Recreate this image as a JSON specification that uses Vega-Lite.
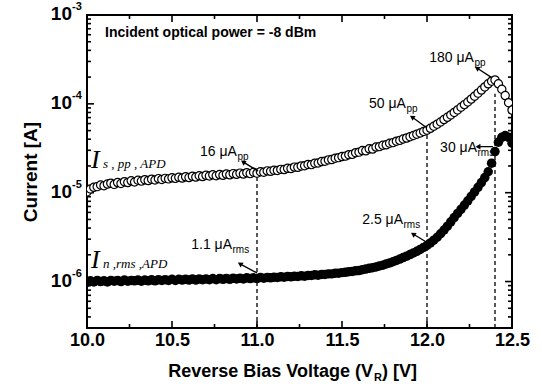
{
  "$schema": "https://vega.github.io/schema/vega-lite/v6.json",
  "width": 425,
  "height": 313,
  "autosize": {"type": "none"},
  "padding": {"left": 87, "top": 15, "right": 30, "bottom": 60},
  "background": "white",
  "config": {"view": {"stroke": "black", "strokeWidth": 2}, "font": "Liberation Sans"},
  "datasets": {
    "open": [
      {"V": 10.00, "I": 1.02e-5}, {"V": 10.02, "I": 1.10e-5}, {"V": 10.04, "I": 1.15e-5}, {"V": 10.06, "I": 1.17e-5}, {"V": 10.08, "I": 1.22e-5},
      {"V": 10.10, "I": 1.20e-5}, {"V": 10.12, "I": 1.25e-5}, {"V": 10.14, "I": 1.28e-5}, {"V": 10.16, "I": 1.24e-5}, {"V": 10.18, "I": 1.30e-5},
      {"V": 10.20, "I": 1.27e-5}, {"V": 10.22, "I": 1.33e-5}, {"V": 10.24, "I": 1.30e-5}, {"V": 10.26, "I": 1.36e-5}, {"V": 10.28, "I": 1.32e-5},
      {"V": 10.30, "I": 1.38e-5}, {"V": 10.32, "I": 1.35e-5}, {"V": 10.34, "I": 1.40e-5}, {"V": 10.36, "I": 1.37e-5}, {"V": 10.38, "I": 1.42e-5},
      {"V": 10.40, "I": 1.39e-5}, {"V": 10.42, "I": 1.44e-5}, {"V": 10.44, "I": 1.41e-5}, {"V": 10.46, "I": 1.45e-5}, {"V": 10.48, "I": 1.43e-5},
      {"V": 10.50, "I": 1.47e-5}, {"V": 10.52, "I": 1.45e-5}, {"V": 10.54, "I": 1.49e-5}, {"V": 10.56, "I": 1.46e-5}, {"V": 10.58, "I": 1.51e-5},
      {"V": 10.60, "I": 1.48e-5}, {"V": 10.62, "I": 1.53e-5}, {"V": 10.64, "I": 1.50e-5}, {"V": 10.66, "I": 1.55e-5}, {"V": 10.68, "I": 1.52e-5},
      {"V": 10.70, "I": 1.57e-5}, {"V": 10.72, "I": 1.54e-5}, {"V": 10.74, "I": 1.59e-5}, {"V": 10.76, "I": 1.55e-5}, {"V": 10.78, "I": 1.60e-5},
      {"V": 10.80, "I": 1.57e-5}, {"V": 10.82, "I": 1.62e-5}, {"V": 10.84, "I": 1.59e-5}, {"V": 10.86, "I": 1.64e-5}, {"V": 10.88, "I": 1.61e-5},
      {"V": 10.90, "I": 1.66e-5}, {"V": 10.92, "I": 1.62e-5}, {"V": 10.94, "I": 1.68e-5}, {"V": 10.96, "I": 1.64e-5}, {"V": 10.98, "I": 1.70e-5},
      {"V": 11.00, "I": 1.66e-5}, {"V": 11.02, "I": 1.72e-5}, {"V": 11.04, "I": 1.70e-5}, {"V": 11.06, "I": 1.76e-5}, {"V": 11.08, "I": 1.74e-5},
      {"V": 11.10, "I": 1.79e-5}, {"V": 11.12, "I": 1.78e-5}, {"V": 11.14, "I": 1.83e-5}, {"V": 11.16, "I": 1.82e-5}, {"V": 11.18, "I": 1.88e-5},
      {"V": 11.20, "I": 1.87e-5}, {"V": 11.22, "I": 1.94e-5}, {"V": 11.24, "I": 1.93e-5}, {"V": 11.26, "I": 2.00e-5}, {"V": 11.28, "I": 2.01e-5},
      {"V": 11.30, "I": 2.08e-5}, {"V": 11.32, "I": 2.07e-5}, {"V": 11.34, "I": 2.15e-5}, {"V": 11.36, "I": 2.16e-5}, {"V": 11.38, "I": 2.24e-5},
      {"V": 11.40, "I": 2.26e-5}, {"V": 11.42, "I": 2.34e-5}, {"V": 11.44, "I": 2.36e-5}, {"V": 11.46, "I": 2.44e-5}, {"V": 11.48, "I": 2.48e-5},
      {"V": 11.50, "I": 2.55e-5}, {"V": 11.52, "I": 2.58e-5}, {"V": 11.54, "I": 2.68e-5}, {"V": 11.56, "I": 2.70e-5}, {"V": 11.58, "I": 2.82e-5},
      {"V": 11.60, "I": 2.86e-5}, {"V": 11.62, "I": 2.98e-5}, {"V": 11.64, "I": 2.96e-5}, {"V": 11.66, "I": 3.12e-5}, {"V": 11.68, "I": 3.10e-5},
      {"V": 11.70, "I": 3.26e-5}, {"V": 11.72, "I": 3.30e-5}, {"V": 11.74, "I": 3.42e-5}, {"V": 11.76, "I": 3.46e-5}, {"V": 11.78, "I": 3.60e-5},
      {"V": 11.80, "I": 3.66e-5}, {"V": 11.82, "I": 3.80e-5}, {"V": 11.84, "I": 3.88e-5}, {"V": 11.86, "I": 4.02e-5}, {"V": 11.88, "I": 4.12e-5},
      {"V": 11.90, "I": 4.26e-5}, {"V": 11.92, "I": 4.40e-5}, {"V": 11.94, "I": 4.55e-5}, {"V": 11.96, "I": 4.70e-5}, {"V": 11.98, "I": 4.88e-5},
      {"V": 12.00, "I": 5.05e-5}, {"V": 12.02, "I": 5.30e-5}, {"V": 12.04, "I": 5.60e-5}, {"V": 12.06, "I": 5.90e-5}, {"V": 12.08, "I": 6.25e-5},
      {"V": 12.10, "I": 6.65e-5}, {"V": 12.12, "I": 7.05e-5}, {"V": 12.14, "I": 7.50e-5}, {"V": 12.16, "I": 8.00e-5}, {"V": 12.18, "I": 8.55e-5},
      {"V": 12.20, "I": 9.15e-5}, {"V": 12.22, "I": 9.80e-5}, {"V": 12.24, "I": 1.05e-4}, {"V": 12.26, "I": 1.13e-4}, {"V": 12.28, "I": 1.22e-4},
      {"V": 12.30, "I": 1.32e-4}, {"V": 12.32, "I": 1.43e-4}, {"V": 12.34, "I": 1.55e-4}, {"V": 12.36, "I": 1.68e-4}, {"V": 12.38, "I": 1.80e-4},
      {"V": 12.40, "I": 1.86e-4}, {"V": 12.42, "I": 1.68e-4}, {"V": 12.44, "I": 1.46e-4}, {"V": 12.46, "I": 1.24e-4}, {"V": 12.48, "I": 1.03e-4},
      {"V": 12.50, "I": 8.5e-5}
    ],
    "filled": [
      {"V": 10.00, "I": 0.98e-6}, {"V": 10.02, "I": 1.02e-6}, {"V": 10.04, "I": 0.99e-6}, {"V": 10.06, "I": 1.03e-6}, {"V": 10.08, "I": 1.00e-6},
      {"V": 10.10, "I": 1.02e-6}, {"V": 10.12, "I": 0.99e-6}, {"V": 10.14, "I": 1.03e-6}, {"V": 10.16, "I": 1.01e-6}, {"V": 10.18, "I": 1.03e-6},
      {"V": 10.20, "I": 1.00e-6}, {"V": 10.22, "I": 1.04e-6}, {"V": 10.24, "I": 1.01e-6}, {"V": 10.26, "I": 1.03e-6}, {"V": 10.28, "I": 1.02e-6},
      {"V": 10.30, "I": 1.04e-6}, {"V": 10.32, "I": 1.01e-6}, {"V": 10.34, "I": 1.04e-6}, {"V": 10.36, "I": 1.02e-6}, {"V": 10.38, "I": 1.05e-6},
      {"V": 10.40, "I": 1.02e-6}, {"V": 10.42, "I": 1.05e-6}, {"V": 10.44, "I": 1.03e-6}, {"V": 10.46, "I": 1.05e-6}, {"V": 10.48, "I": 1.03e-6},
      {"V": 10.50, "I": 1.06e-6}, {"V": 10.52, "I": 1.03e-6}, {"V": 10.54, "I": 1.06e-6}, {"V": 10.56, "I": 1.04e-6}, {"V": 10.58, "I": 1.06e-6},
      {"V": 10.60, "I": 1.04e-6}, {"V": 10.62, "I": 1.07e-6}, {"V": 10.64, "I": 1.04e-6}, {"V": 10.66, "I": 1.07e-6}, {"V": 10.68, "I": 1.05e-6},
      {"V": 10.70, "I": 1.07e-6}, {"V": 10.72, "I": 1.05e-6}, {"V": 10.74, "I": 1.08e-6}, {"V": 10.76, "I": 1.05e-6}, {"V": 10.78, "I": 1.08e-6},
      {"V": 10.80, "I": 1.06e-6}, {"V": 10.82, "I": 1.08e-6}, {"V": 10.84, "I": 1.06e-6}, {"V": 10.86, "I": 1.09e-6}, {"V": 10.88, "I": 1.07e-6},
      {"V": 10.90, "I": 1.09e-6}, {"V": 10.92, "I": 1.07e-6}, {"V": 10.94, "I": 1.10e-6}, {"V": 10.96, "I": 1.08e-6}, {"V": 10.98, "I": 1.10e-6},
      {"V": 11.00, "I": 1.08e-6}, {"V": 11.02, "I": 1.11e-6}, {"V": 11.04, "I": 1.09e-6}, {"V": 11.06, "I": 1.11e-6}, {"V": 11.08, "I": 1.10e-6},
      {"V": 11.10, "I": 1.12e-6}, {"V": 11.12, "I": 1.11e-6}, {"V": 11.14, "I": 1.13e-6}, {"V": 11.16, "I": 1.12e-6}, {"V": 11.18, "I": 1.14e-6},
      {"V": 11.20, "I": 1.13e-6}, {"V": 11.22, "I": 1.15e-6}, {"V": 11.24, "I": 1.14e-6}, {"V": 11.26, "I": 1.16e-6}, {"V": 11.28, "I": 1.15e-6},
      {"V": 11.30, "I": 1.17e-6}, {"V": 11.32, "I": 1.17e-6}, {"V": 11.34, "I": 1.19e-6}, {"V": 11.36, "I": 1.18e-6}, {"V": 11.38, "I": 1.20e-6},
      {"V": 11.40, "I": 1.20e-6}, {"V": 11.42, "I": 1.22e-6}, {"V": 11.44, "I": 1.22e-6}, {"V": 11.46, "I": 1.24e-6}, {"V": 11.48, "I": 1.24e-6},
      {"V": 11.50, "I": 1.26e-6}, {"V": 11.52, "I": 1.27e-6}, {"V": 11.54, "I": 1.29e-6}, {"V": 11.56, "I": 1.30e-6}, {"V": 11.58, "I": 1.32e-6},
      {"V": 11.60, "I": 1.33e-6}, {"V": 11.62, "I": 1.36e-6}, {"V": 11.64, "I": 1.38e-6}, {"V": 11.66, "I": 1.41e-6}, {"V": 11.68, "I": 1.43e-6},
      {"V": 11.70, "I": 1.46e-6}, {"V": 11.72, "I": 1.50e-6}, {"V": 11.74, "I": 1.53e-6}, {"V": 11.76, "I": 1.58e-6}, {"V": 11.78, "I": 1.62e-6},
      {"V": 11.80, "I": 1.67e-6}, {"V": 11.82, "I": 1.73e-6}, {"V": 11.84, "I": 1.79e-6}, {"V": 11.86, "I": 1.86e-6}, {"V": 11.88, "I": 1.93e-6},
      {"V": 11.90, "I": 2.01e-6}, {"V": 11.92, "I": 2.10e-6}, {"V": 11.94, "I": 2.19e-6}, {"V": 11.96, "I": 2.30e-6}, {"V": 11.98, "I": 2.42e-6},
      {"V": 12.00, "I": 2.55e-6}, {"V": 12.02, "I": 2.72e-6}, {"V": 12.04, "I": 2.92e-6}, {"V": 12.06, "I": 3.15e-6}, {"V": 12.08, "I": 3.45e-6},
      {"V": 12.10, "I": 3.80e-6}, {"V": 12.12, "I": 4.20e-6}, {"V": 12.14, "I": 4.70e-6}, {"V": 12.16, "I": 5.25e-6}, {"V": 12.18, "I": 5.85e-6},
      {"V": 12.20, "I": 6.50e-6}, {"V": 12.22, "I": 7.25e-6}, {"V": 12.24, "I": 8.10e-6}, {"V": 12.26, "I": 9.10e-6}, {"V": 12.28, "I": 1.02e-5},
      {"V": 12.30, "I": 1.15e-5}, {"V": 12.32, "I": 1.30e-5}, {"V": 12.34, "I": 1.48e-5}, {"V": 12.36, "I": 1.72e-5}, {"V": 12.38, "I": 2.15e-5},
      {"V": 12.40, "I": 2.90e-5}, {"V": 12.42, "I": 3.70e-5}, {"V": 12.44, "I": 4.20e-5}, {"V": 12.46, "I": 4.40e-5}, {"V": 12.48, "I": 4.20e-5},
      {"V": 12.50, "I": 3.60e-5}
    ],
    "vlines": [
      {"V": 11.0, "I": 3e-7, "I2": 1.5e-5},
      {"V": 12.0, "I": 3e-7, "I2": 4.6e-5},
      {"V": 12.4, "I": 3e-7, "I2": 1.3e-4}
    ],
    "arrowsDiag": [
      {"V": 10.918, "I": 2.22e-5, "V2": 11.006, "I2": 1.75e-5},
      {"V": 10.900, "I": 1.58e-6, "V2": 11.000, "I2": 1.25e-6},
      {"V": 11.918, "I": 3.43e-6, "V2": 12.006, "I2": 2.72e-6},
      {"V": 11.912, "I": 7.11e-5, "V2": 12.000, "I2": 5.35e-5},
      {"V": 12.294, "I": 2.53e-4, "V2": 12.376, "I2": 2.00e-4}
    ],
    "arrowsHoriz": [
      {"V": 12.300, "I": 3.30e-5, "V2": 12.388, "I2": 3.30e-5}
    ],
    "notes": [
      {"V": 10.882, "I": 2.87e-5, "main": "16 μA", "sub": "pp"},
      {"V": 10.853, "I": 2.58e-6, "main": "1.1 μA", "sub": "rms"},
      {"V": 11.876, "I": 1.0e-4, "main": "50 μA", "sub": "pp"},
      {"V": 12.276, "I": 3.28e-4, "main": "180 μA", "sub": "pp"},
      {"V": 11.859, "I": 4.93e-6, "main": "2.5 μA", "sub": "rms"},
      {"V": 12.294, "I": 3.18e-5, "main": "30 μA", "sub": "rms"}
    ],
    "headline": [
      {"V": 10.106, "I": 6.27e-4, "text": "Incident optical power = -8 dBm"}
    ],
    "curveLabels": [
      {"V": 10.0235, "I": 1.90e-5, "main": "I", "sub": "s , pp , APD"},
      {"V": 10.0235, "I": 1.42e-6, "main": "I", "sub": "n ,rms ,APD"}
    ],
    "ylabels": [
      {"V": 10.0, "I": 1e-3, "base": "10", "exp": "-3"},
      {"V": 10.0, "I": 1e-4, "base": "10", "exp": "-4"},
      {"V": 10.0, "I": 1e-5, "base": "10", "exp": "-5"},
      {"V": 10.0, "I": 1e-6, "base": "10", "exp": "-6"}
    ],
    "xtitle": [
      {"V": 11.682, "I": 3e-7, "a": "Reverse Bias Voltage (V", "b": "R", "c": ") [V]"}
    ],
    "xMajor": [{"V": 10.5}, {"V": 11.0}, {"V": 11.5}, {"V": 12.0}],
    "xMinor": [{"V": 10.25}, {"V": 10.75}, {"V": 11.25}, {"V": 11.75}, {"V": 12.25}],
    "yMajor": [{"I": 1e-6}, {"I": 1e-5}, {"I": 1e-4}],
    "yMinor": [
      {"I": 4e-7}, {"I": 5e-7}, {"I": 6e-7}, {"I": 7e-7}, {"I": 8e-7}, {"I": 9e-7},
      {"I": 2e-6}, {"I": 3e-6}, {"I": 4e-6}, {"I": 5e-6}, {"I": 6e-6}, {"I": 7e-6}, {"I": 8e-6}, {"I": 9e-6},
      {"I": 2e-5}, {"I": 3e-5}, {"I": 4e-5}, {"I": 5e-5}, {"I": 6e-5}, {"I": 7e-5}, {"I": 8e-5}, {"I": 9e-5},
      {"I": 2e-4}, {"I": 3e-4}, {"I": 4e-4}, {"I": 5e-4}, {"I": 6e-4}, {"I": 7e-4}, {"I": 8e-4}, {"I": 9e-4}
    ]
  },
  "layer": [
    {
      "data": {"name": "vlines"},
      "mark": {"type": "rule", "strokeDash": [4, 3], "strokeWidth": 1.3, "color": "black"},
      "encoding": {
        "x": {"field": "V", "type": "quantitative", "scale": {"domain": [10, 12.5], "nice": false, "zero": false},
          "axis": {"orient": "bottom", "values": [10, 10.5, 11, 11.5, 12, 12.5], "format": ".1f",
            "ticks": false, "domain": false, "grid": false,
            "labelFont": "Liberation Sans", "labelFontWeight": "bold", "labelFontSize": 18, "labelColor": "black",
            "labelPadding": 3, "labelFlush": false, "labelOverlap": false, "title": null}},
        "y": {"field": "I", "type": "quantitative", "scale": {"type": "log", "domain": [3e-7, 1e-3], "nice": false},
          "axis": {"orient": "left", "values": [1e-6, 1e-5, 1e-4, 1e-3],
            "labels": false, "ticks": false, "domain": false, "grid": false,
            "title": "Current [A]", "titleFont": "Liberation Sans", "titleFontWeight": "bold", "titleFontSize": 19, "titleColor": "black", "titlePadding": 47}},
        "y2": {"field": "I2"}
      }
    },
    {
      "data": {"name": "xMajor"},
      "mark": {"type": "rule", "strokeWidth": 1.6, "color": "black"},
      "encoding": {
        "x": {"field": "V", "type": "quantitative", "scale": {"domain": [10, 12.5], "nice": false, "zero": false}, "axis": null},
        "y": {"datum": 3e-7, "type": "quantitative", "scale": {"type": "log", "domain": [3e-7, 1e-3], "nice": false}, "axis": null},
        "y2": {"datum": 3.6e-7}
      }
    },
    {
      "data": {"name": "xMajor"},
      "mark": {"type": "rule", "strokeWidth": 1.6, "color": "black"},
      "encoding": {
        "x": {"field": "V", "type": "quantitative", "scale": {"domain": [10, 12.5], "nice": false, "zero": false}, "axis": null},
        "y": {"datum": 1e-3, "type": "quantitative", "scale": {"type": "log", "domain": [3e-7, 1e-3], "nice": false}, "axis": null},
        "y2": {"datum": 8.34e-4}
      }
    },
    {
      "data": {"name": "xMinor"},
      "mark": {"type": "rule", "strokeWidth": 1.6, "color": "black"},
      "encoding": {
        "x": {"field": "V", "type": "quantitative", "scale": {"domain": [10, 12.5], "nice": false, "zero": false}, "axis": null},
        "y": {"datum": 3e-7, "type": "quantitative", "scale": {"type": "log", "domain": [3e-7, 1e-3], "nice": false}, "axis": null},
        "y2": {"datum": 3.33e-7}
      }
    },
    {
      "data": {"name": "xMinor"},
      "mark": {"type": "rule", "strokeWidth": 1.6, "color": "black"},
      "encoding": {
        "x": {"field": "V", "type": "quantitative", "scale": {"domain": [10, 12.5], "nice": false, "zero": false}, "axis": null},
        "y": {"datum": 1e-3, "type": "quantitative", "scale": {"type": "log", "domain": [3e-7, 1e-3], "nice": false}, "axis": null},
        "y2": {"datum": 9.02e-4}
      }
    },
    {
      "data": {"name": "yMajor"},
      "mark": {"type": "rule", "strokeWidth": 1.6, "color": "black"},
      "encoding": {
        "x": {"datum": 10, "type": "quantitative", "scale": {"domain": [10, 12.5], "nice": false, "zero": false}, "axis": null},
        "x2": {"datum": 10.041},
        "y": {"field": "I", "type": "quantitative", "scale": {"type": "log", "domain": [3e-7, 1e-3], "nice": false}, "axis": null}
      }
    },
    {
      "data": {"name": "yMajor"},
      "mark": {"type": "rule", "strokeWidth": 1.6, "color": "black"},
      "encoding": {
        "x": {"datum": 12.5, "type": "quantitative", "scale": {"domain": [10, 12.5], "nice": false, "zero": false}, "axis": null},
        "x2": {"datum": 12.459},
        "y": {"field": "I", "type": "quantitative", "scale": {"type": "log", "domain": [3e-7, 1e-3], "nice": false}, "axis": null}
      }
    },
    {
      "data": {"name": "yMinor"},
      "mark": {"type": "rule", "strokeWidth": 1.6, "color": "black"},
      "encoding": {
        "x": {"datum": 10, "type": "quantitative", "scale": {"domain": [10, 12.5], "nice": false, "zero": false}, "axis": null},
        "x2": {"datum": 10.0235},
        "y": {"field": "I", "type": "quantitative", "scale": {"type": "log", "domain": [3e-7, 1e-3], "nice": false}, "axis": null}
      }
    },
    {
      "data": {"name": "yMinor"},
      "mark": {"type": "rule", "strokeWidth": 1.6, "color": "black"},
      "encoding": {
        "x": {"datum": 12.5, "type": "quantitative", "scale": {"domain": [10, 12.5], "nice": false, "zero": false}, "axis": null},
        "x2": {"datum": 12.4765},
        "y": {"field": "I", "type": "quantitative", "scale": {"type": "log", "domain": [3e-7, 1e-3], "nice": false}, "axis": null}
      }
    },
    {
      "data": {"name": "filled"},
      "mark": {"type": "circle", "size": 90, "color": "black", "opacity": 1, "clip": true},
      "encoding": {
        "x": {"field": "V", "type": "quantitative", "scale": {"domain": [10, 12.5], "nice": false, "zero": false}, "axis": null},
        "y": {"field": "I", "type": "quantitative", "scale": {"type": "log", "domain": [3e-7, 1e-3], "nice": false}, "axis": null}
      }
    },
    {
      "data": {"name": "open"},
      "mark": {"type": "circle", "size": 68, "fill": "white", "stroke": "black", "strokeWidth": 1.2, "opacity": 1, "fillOpacity": 1, "clip": true},
      "encoding": {
        "x": {"field": "V", "type": "quantitative", "scale": {"domain": [10, 12.5], "nice": false, "zero": false}, "axis": null},
        "y": {"field": "I", "type": "quantitative", "scale": {"type": "log", "domain": [3e-7, 1e-3], "nice": false}, "axis": null}
      }
    },
    {
      "data": {"name": "arrowsDiag"},
      "mark": {"type": "rule", "strokeWidth": 1.3, "color": "black"},
      "encoding": {
        "x": {"field": "V", "type": "quantitative", "scale": {"domain": [10, 12.5], "nice": false, "zero": false}, "axis": null},
        "y": {"field": "I", "type": "quantitative", "scale": {"type": "log", "domain": [3e-7, 1e-3], "nice": false}, "axis": null},
        "x2": {"field": "V2"},
        "y2": {"field": "I2"}
      }
    },
    {
      "data": {"name": "arrowsHoriz"},
      "mark": {"type": "rule", "strokeWidth": 1.3, "color": "black"},
      "encoding": {
        "x": {"field": "V", "type": "quantitative", "scale": {"domain": [10, 12.5], "nice": false, "zero": false}, "axis": null},
        "y": {"field": "I", "type": "quantitative", "scale": {"type": "log", "domain": [3e-7, 1e-3], "nice": false}, "axis": null},
        "x2": {"field": "V2"},
        "y2": {"field": "I2"}
      }
    },
    {
      "data": {"name": "arrowsDiag"},
      "mark": {"type": "point", "shape": "triangle-up", "angle": -57, "size": 32, "filled": true, "color": "black", "opacity": 1},
      "encoding": {
        "x": {"field": "V", "type": "quantitative", "scale": {"domain": [10, 12.5], "nice": false, "zero": false}, "axis": null},
        "y": {"field": "I", "type": "quantitative", "scale": {"type": "log", "domain": [3e-7, 1e-3], "nice": false}, "axis": null}
      }
    },
    {
      "data": {"name": "arrowsHoriz"},
      "mark": {"type": "point", "shape": "triangle-up", "angle": -90, "size": 32, "filled": true, "color": "black", "opacity": 1},
      "encoding": {
        "x": {"field": "V", "type": "quantitative", "scale": {"domain": [10, 12.5], "nice": false, "zero": false}, "axis": null},
        "y": {"field": "I", "type": "quantitative", "scale": {"type": "log", "domain": [3e-7, 1e-3], "nice": false}, "axis": null}
      }
    },
    {
      "data": {"name": "notes"},
      "mark": {"type": "text", "align": "right", "baseline": "middle", "font": "Liberation Sans", "fontSize": 14, "color": "black"},
      "encoding": {
        "x": {"field": "V", "type": "quantitative", "scale": {"domain": [10, 12.5], "nice": false, "zero": false}, "axis": null},
        "y": {"field": "I", "type": "quantitative", "scale": {"type": "log", "domain": [3e-7, 1e-3], "nice": false}, "axis": null},
        "text": {"field": "main"}
      }
    },
    {
      "data": {"name": "notes"},
      "mark": {"type": "text", "align": "left", "baseline": "middle", "dx": 0.5, "dy": 5, "font": "Liberation Sans", "fontSize": 10, "color": "black"},
      "encoding": {
        "x": {"field": "V", "type": "quantitative", "scale": {"domain": [10, 12.5], "nice": false, "zero": false}, "axis": null},
        "y": {"field": "I", "type": "quantitative", "scale": {"type": "log", "domain": [3e-7, 1e-3], "nice": false}, "axis": null},
        "text": {"field": "sub"}
      }
    },
    {
      "data": {"name": "headline"},
      "mark": {"type": "text", "align": "left", "baseline": "middle", "font": "Liberation Sans", "fontWeight": "bold", "fontSize": 14, "color": "black"},
      "encoding": {
        "x": {"field": "V", "type": "quantitative", "scale": {"domain": [10, 12.5], "nice": false, "zero": false}, "axis": null},
        "y": {"field": "I", "type": "quantitative", "scale": {"type": "log", "domain": [3e-7, 1e-3], "nice": false}, "axis": null},
        "text": {"field": "text"}
      }
    },
    {
      "data": {"name": "curveLabels"},
      "mark": {"type": "text", "align": "left", "baseline": "alphabetic", "font": "Liberation Serif", "fontStyle": "italic", "fontSize": 26, "color": "black"},
      "encoding": {
        "x": {"field": "V", "type": "quantitative", "scale": {"domain": [10, 12.5], "nice": false, "zero": false}, "axis": null},
        "y": {"field": "I", "type": "quantitative", "scale": {"type": "log", "domain": [3e-7, 1e-3], "nice": false}, "axis": null},
        "text": {"field": "main"}
      }
    },
    {
      "data": {"name": "curveLabels"},
      "mark": {"type": "text", "align": "left", "baseline": "alphabetic", "dx": 12, "font": "Liberation Serif", "fontStyle": "italic", "fontSize": 13, "color": "black"},
      "encoding": {
        "x": {"field": "V", "type": "quantitative", "scale": {"domain": [10, 12.5], "nice": false, "zero": false}, "axis": null},
        "y": {"field": "I", "type": "quantitative", "scale": {"type": "log", "domain": [3e-7, 1e-3], "nice": false}, "axis": null},
        "text": {"field": "sub"}
      }
    },
    {
      "data": {"name": "ylabels"},
      "mark": {"type": "text", "align": "right", "baseline": "middle", "dx": -15, "dy": -1, "font": "Liberation Sans", "fontWeight": "bold", "fontSize": 19, "color": "black"},
      "encoding": {
        "x": {"field": "V", "type": "quantitative", "scale": {"domain": [10, 12.5], "nice": false, "zero": false}, "axis": null},
        "y": {"field": "I", "type": "quantitative", "scale": {"type": "log", "domain": [3e-7, 1e-3], "nice": false}, "axis": null},
        "text": {"field": "base"}
      }
    },
    {
      "data": {"name": "ylabels"},
      "mark": {"type": "text", "align": "left", "baseline": "middle", "dx": -15, "dy": -8, "font": "Liberation Sans", "fontWeight": "bold", "fontSize": 11, "color": "black"},
      "encoding": {
        "x": {"field": "V", "type": "quantitative", "scale": {"domain": [10, 12.5], "nice": false, "zero": false}, "axis": null},
        "y": {"field": "I", "type": "quantitative", "scale": {"type": "log", "domain": [3e-7, 1e-3], "nice": false}, "axis": null},
        "text": {"field": "exp"}
      }
    },
    {
      "data": {"name": "xtitle"},
      "mark": {"type": "text", "align": "right", "baseline": "middle", "dy": 44, "font": "Liberation Sans", "fontWeight": "bold", "fontSize": 18, "color": "black"},
      "encoding": {
        "x": {"field": "V", "type": "quantitative", "scale": {"domain": [10, 12.5], "nice": false, "zero": false}, "axis": null},
        "y": {"field": "I", "type": "quantitative", "scale": {"type": "log", "domain": [3e-7, 1e-3], "nice": false}, "axis": null},
        "text": {"field": "a"}
      }
    },
    {
      "data": {"name": "xtitle"},
      "mark": {"type": "text", "align": "left", "baseline": "middle", "dx": 1, "dy": 50, "font": "Liberation Sans", "fontWeight": "bold", "fontSize": 11, "color": "black"},
      "encoding": {
        "x": {"field": "V", "type": "quantitative", "scale": {"domain": [10, 12.5], "nice": false, "zero": false}, "axis": null},
        "y": {"field": "I", "type": "quantitative", "scale": {"type": "log", "domain": [3e-7, 1e-3], "nice": false}, "axis": null},
        "text": {"field": "b"}
      }
    },
    {
      "data": {"name": "xtitle"},
      "mark": {"type": "text", "align": "left", "baseline": "middle", "dx": 9, "dy": 44, "font": "Liberation Sans", "fontWeight": "bold", "fontSize": 18, "color": "black"},
      "encoding": {
        "x": {"field": "V", "type": "quantitative", "scale": {"domain": [10, 12.5], "nice": false, "zero": false}, "axis": null},
        "y": {"field": "I", "type": "quantitative", "scale": {"type": "log", "domain": [3e-7, 1e-3], "nice": false}, "axis": null},
        "text": {"field": "c"}
      }
    }
  ],
  "resolve": {"axis": {"x": "independent", "y": "independent"}}
}
